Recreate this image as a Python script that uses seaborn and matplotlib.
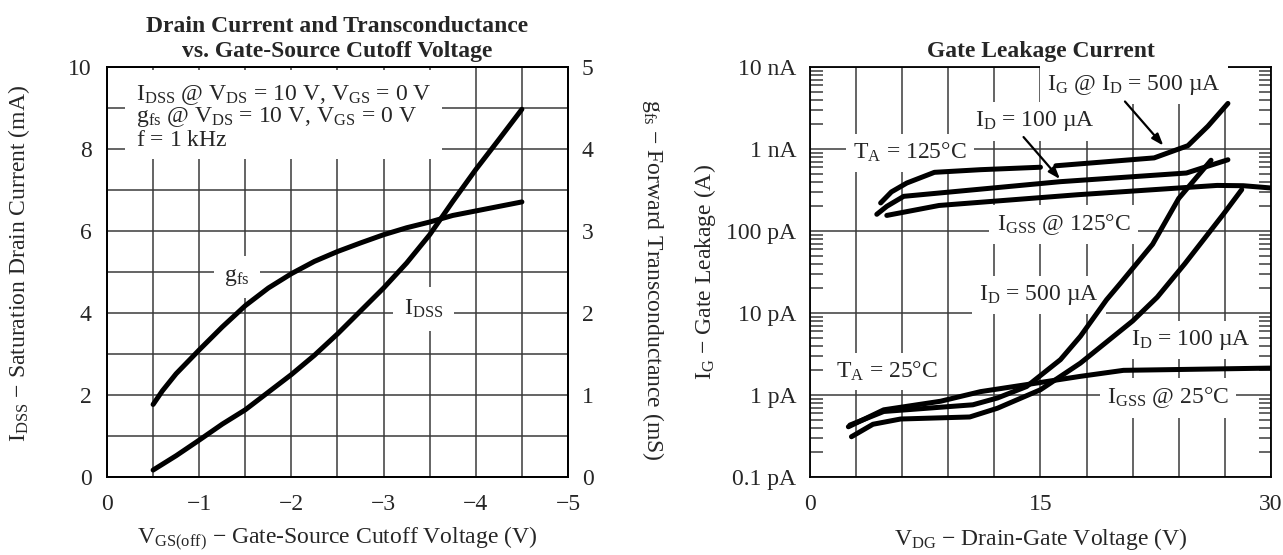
import matplotlib
matplotlib.use("Agg")
import matplotlib.pyplot as plt
import seaborn as sns
from matplotlib.ticker import MultipleLocator, NullFormatter

# left chart: IDSS and gfs vs VGS(off)
vgs_off = [-0.5, -0.75, -1.0, -1.25, -1.5, -1.75, -2.0, -2.25, -2.5,
           -2.75, -3.0, -3.25, -3.5, -3.75, -4.0, -4.25, -4.5]
idss_ma = [0.17, 0.52, 0.90, 1.29, 1.64, 2.07, 2.50, 2.97, 3.49,
           4.05, 4.61, 5.22, 5.91, 6.72, 7.50, 8.23, 8.97]
vgs_off_gfs = [-0.5, -0.6, -0.75, -1.0, -1.25, -1.5, -1.75, -2.0, -2.25, -2.5,
               -2.75, -3.0, -3.25, -3.5, -3.75, -4.0, -4.25, -4.5]
gfs_ms = [0.885, 1.05, 1.26, 1.55, 1.83, 2.09, 2.305, 2.48, 2.63, 2.75,
          2.855, 2.955, 3.04, 3.11, 3.19, 3.245, 3.30, 3.355]

# right chart: gate leakage vs VDG, TA = 125 C
vdg_ig500_hot_a = [4.6, 5.3, 6.3, 8.1, 11.1, 15.0]
ig500_hot_a = [2.2e-10, 3.0e-10, 3.85e-10, 5.2e-10, 5.6e-10, 6.0e-10]
vdg_ig500_hot_b = [16.0, 22.4, 24.6, 25.9, 27.2]
ig500_hot_b = [6.25e-10, 7.8e-10, 1.1e-9, 1.9e-9, 3.6e-9]
vdg_id100_hot = [4.35, 5.0, 6.1, 16.3, 24.5, 27.2]
id100_hot = [1.6e-10, 2.0e-10, 2.65e-10, 4.0e-10, 5.1e-10, 7.4e-10]
vdg_igss_hot = [5.0, 8.4, 17.4, 26.5, 28.2, 30.0]
igss_hot = [1.55e-10, 2.05e-10, 2.77e-10, 3.6e-10, 3.57e-10, 3.35e-10]

# TA = 25 C
vdg_igss_room = [2.5, 4.8, 8.5, 11.1, 14.1, 17.6, 20.4, 30.0]
igss_room = [4.1e-13, 6.6e-13, 8.4e-13, 1.1e-12, 1.34e-12, 1.69e-12, 2.0e-12, 2.13e-12]
vdg_id500_room = [2.6, 4.8, 10.6, 12.2, 14.1, 16.3, 17.6, 19.3, 20.2, 22.3, 24.0, 26.1]
id500_room = [4.3e-13, 6.3e-13, 7.6e-13, 9.2e-13, 1.27e-12, 2.7e-12, 5.2e-12,
              1.45e-11, 2.3e-11, 6.9e-11, 2.5e-10, 7.3e-10]
vdg_id100_room = [2.7, 4.1, 5.9, 10.4, 12.2, 15.0, 17.6, 21.0, 22.6, 24.4, 26.9, 28.1]
id100_room = [3.1e-13, 4.4e-13, 5.1e-13, 5.4e-13, 6.9e-13, 1.16e-12, 2.45e-12,
              8.0e-12, 1.56e-11, 4.0e-11, 1.6e-10, 3.2e-10]

leak_ticks = [1e-13, 1e-12, 1e-11, 1e-10, 1e-9, 1e-8]
leak_labels = ["0.1 pA", "1 pA", "10 pA", "100 pA", "1 nA", "10 nA"]

sns.set_style("white")
plt.rcParams["font.family"] = ["Liberation Serif", "DejaVu Serif"]
plt.rcParams["mathtext.fontset"] = "custom"
plt.rcParams["mathtext.rm"] = "Liberation Serif"
plt.rcParams["mathtext.it"] = "Liberation Serif:italic"
plt.rcParams["mathtext.bf"] = "Liberation Serif:bold"

FS = 17
GRID = "#3a3a3a"
LW = 3.6
white = dict(boxstyle="square,pad=0.3", fc="white", ec="none")

fig = plt.figure(figsize=(12.83, 5.55), dpi=100)
ax = fig.add_axes([0.0834, 0.1405, 0.3593, 0.7387])
ax2 = ax.twinx()
bx = fig.add_axes([0.6313, 0.1405, 0.3593, 0.7387])

# ---- left chart
sns.lineplot(x=vgs_off, y=idss_ma, ax=ax, color="black", lw=LW,
             estimator=None, sort=False, solid_capstyle="round", zorder=4)
sns.lineplot(x=vgs_off_gfs, y=gfs_ms, ax=ax2, color="black", lw=LW,
             estimator=None, sort=False, solid_capstyle="round", zorder=4)
ax.set_xlim(0, -5)
ax.set_ylim(0, 10)
ax2.set_ylim(0, 5)
ax.set_xticks(range(0, -6, -1))
ax.set_yticks(range(0, 11, 2))
ax2.set_yticks(range(0, 6))
ax.xaxis.set_minor_locator(MultipleLocator(0.5))
ax.yaxis.set_minor_locator(MultipleLocator(1))
ax.grid(True, which="both", color=GRID, lw=1.1)
ax.set_axisbelow(True)
ax.tick_params(which="both", length=0, labelsize=FS)
ax.tick_params(axis="x", pad=12)
ax.tick_params(axis="y", pad=11)
ax2.tick_params(length=0, labelsize=FS, pad=10)

ax.set_title("Drain Current and Transconductance\nvs. Gate-Source Cutoff Voltage",
             fontsize=FS, fontweight="bold", pad=7, linespacing=1.25)
ax.set_xlabel(r"$\mathrm{V_{GS(off)}}$ − Gate-Source Cutoff Voltage (V)", fontsize=FS, va="center")
ax.xaxis.set_label_coords(0.5, -0.152)
ax.set_ylabel(r"$\mathrm{I_{DSS}}$ − Saturation Drain Current (mA)", fontsize=FS, va="center")
ax.yaxis.set_label_coords(-0.19, 0.52)
ax2.set_ylabel(r"$\mathrm{g_{fs}}$ − Forward Transconductance (mS)", fontsize=FS,
               rotation=270, va="center")
ax2.yaxis.set_label_coords(1.185, 0.48)

cond = "\n".join([r"$\mathrm{I_{DSS}}$ @ $\mathrm{V_{DS}}$ = 10 V, $\mathrm{V_{GS}}$ = 0 V",
                  r"$\mathrm{g_{fs}}$ @ $\mathrm{V_{DS}}$ = 10 V, $\mathrm{V_{GS}}$ = 0 V",
                  r"f = 1 kHz$\mathrm{_{\ }}$"])
ax.text(-0.31, 9.62, cond, fontsize=FS, ha="left", va="top", linespacing=0.9,
        bbox=dict(boxstyle="square,pad=0.45", fc="white", ec="none"), zorder=3)
ax.text(-1.41, 4.87, r"$\mathrm{g_{fs}}$", fontsize=FS, ha="center", va="center",
        bbox=dict(boxstyle="square,pad=0.45", fc="white", ec="none"), zorder=3)
ax.text(-3.43, 4.1, r"$\mathrm{I_{DSS}}$", fontsize=FS, ha="center", va="center",
        bbox=dict(boxstyle="square,pad=0.45", fc="white", ec="none"), zorder=3)

# ---- right chart
bx.set_yscale("log")
curves = [(vdg_ig500_hot_a, ig500_hot_a), (vdg_ig500_hot_b, ig500_hot_b),
          (vdg_id100_hot, id100_hot), (vdg_igss_hot, igss_hot),
          (vdg_igss_room, igss_room), (vdg_id500_room, id500_room),
          (vdg_id100_room, id100_room)]
for xs, ys in curves:
    sns.lineplot(x=xs, y=ys, ax=bx, color="black", lw=LW, estimator=None,
                 sort=False, solid_capstyle="round", zorder=4)
bx.set_xlim(0, 30)
bx.set_ylim(1e-13, 1e-8)
bx.set_xticks([0, 15, 30])
bx.xaxis.set_minor_locator(MultipleLocator(3))
bx.set_yticks(leak_ticks, leak_labels)
bx.yaxis.set_minor_formatter(NullFormatter())
bx.grid(True, which="major", axis="y", color=GRID, lw=1.1)
bx.grid(True, which="both", axis="x", color=GRID, lw=1.1)
bx.set_axisbelow(True)
bx.tick_params(which="major", length=0, labelsize=FS)
bx.tick_params(axis="x", which="minor", length=0)
bx.tick_params(axis="y", which="minor", direction="in", length=9, width=1.1,
               color=GRID, left=True, right=True)
bx.tick_params(axis="x", pad=12)
bx.tick_params(axis="y", pad=10)
bx.set_title("Gate Leakage Current", fontsize=FS, fontweight="bold", pad=7)
bx.set_xlabel(r"$\mathrm{V_{DG}}$ − Drain-Gate Voltage (V)", fontsize=FS, va="center")
bx.xaxis.set_label_coords(0.5, -0.152)
bx.set_ylabel(r"$\mathrm{I_G}$ − Gate Leakage (A)", fontsize=FS, va="center")
bx.yaxis.set_label_coords(-0.228, 0.5)

labels = [
    (21.1, 6.1e-9, r"$\mathrm{I_G}$ @ $\mathrm{I_D}$ = 500 µA"),
    (14.6, 2.17e-9, r"$\mathrm{I_D}$ = 100 µA"),
    (6.5, 9.0e-10, r"$\mathrm{T_A}$ = 125°C"),
    (16.5, 1.19e-10, r"$\mathrm{I_{GSS}}$ @ 125°C"),
    (14.9, 1.67e-11, r"$\mathrm{I_D}$ = 500 µA"),
    (24.8, 4.7e-12, r"$\mathrm{I_D}$ = 100 µA"),
    (5.0, 1.94e-12, r"$\mathrm{T_A}$ = 25°C"),
    (23.3, 9.2e-13, r"$\mathrm{I_{GSS}}$ @ 25°C"),
]
for lx, ly, s in labels:
    bx.text(lx, ly, s, fontsize=FS, ha="center", va="center", bbox=white, zorder=3)

arrow = dict(arrowstyle="-|>,head_length=0.7,head_width=0.25", color="black", lw=1.6,
             shrinkA=0, shrinkB=0)
bx.annotate("", xy=(23.0, 1.1e-9), xytext=(20.5, 3.8e-9), arrowprops=arrow, zorder=5)
bx.annotate("", xy=(16.27, 4.3e-10), xytext=(13.9, 1.4e-9), arrowprops=arrow, zorder=5)

for a in (ax, ax2, bx):
    for sp in a.spines.values():
        sp.set_color("black")
        sp.set_linewidth(1.3)

fig.savefig("out.png", dpi=100)
